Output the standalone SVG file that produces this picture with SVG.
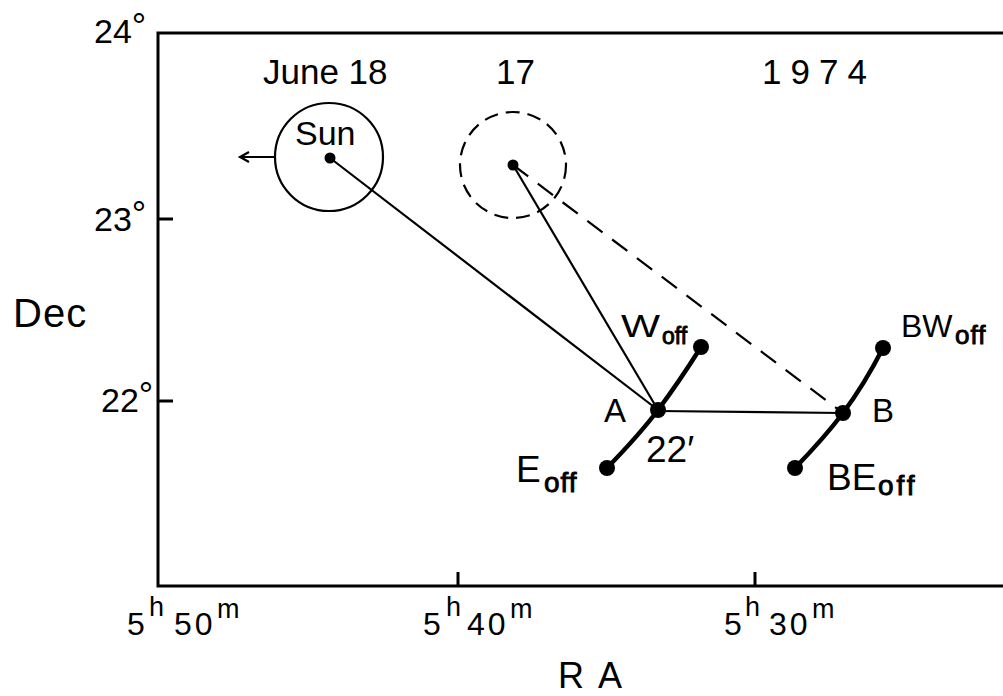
<svg xmlns="http://www.w3.org/2000/svg" width="1003" height="696" viewBox="0 0 1003 696">
<style>
text{font-family:"Liberation Sans","DejaVu Sans",sans-serif;fill:#000}
.ax{stroke:#000;stroke-width:3;fill:none}
.thin{stroke:#000;stroke-width:2.2;fill:none}
.thick{stroke:#000;stroke-width:4.5;fill:none;stroke-linecap:round}
.dot{fill:#000}
.sub{stroke:#000;stroke-width:0.9}
</style>
<rect width="1003" height="696" fill="#fff"/>
<g id="axes">
<path class="ax" d="M1003 33H158V586H1003"/>
<path class="ax" d="M158 219H173M158 401H173M458 586V572M755 586V572" stroke-width="2"/>
<text x="94" y="43" font-size="34">24<tspan dy="-4" font-size="36">°</tspan></text>
<text x="94" y="231" font-size="34">23<tspan dy="-4" font-size="36">°</tspan></text>
<text x="101" y="412" font-size="34">22<tspan dy="-4" font-size="36">°</tspan></text>
<text x="13" y="327" font-size="40" letter-spacing="1">Dec</text>
<text font-size="32"><tspan x="127" y="635">5</tspan><tspan x="149" y="616" font-size="27">h</tspan><tspan x="174" y="635" letter-spacing="3">50</tspan><tspan x="217" y="618" font-size="27">m</tspan></text>
<text font-size="32"><tspan x="423" y="635">5</tspan><tspan x="446" y="616" font-size="27">h</tspan><tspan x="467" y="635" letter-spacing="3">40</tspan><tspan x="510" y="618" font-size="27">m</tspan></text>
<text font-size="32"><tspan x="724" y="635">5</tspan><tspan x="745" y="616" font-size="27">h</tspan><tspan x="769" y="635" letter-spacing="3">30</tspan><tspan x="812" y="618" font-size="27">m</tspan></text>
<text font-size="36"><tspan x="558" y="688">R</tspan><tspan x="598" y="688">A</tspan></text>
<text x="263" y="84" font-size="35">June 18</text>
<text x="496" y="84" font-size="35">17</text>
<text x="762" y="84" font-size="35" letter-spacing="9">1974</text>
</g>
<g id="connectors">
<line class="thin" x1="330" y1="158" x2="658" y2="410"/>
<line class="thin" x1="513" y1="165" x2="658" y2="410"/>
<line class="thin" x1="513" y1="165" x2="843" y2="413" stroke-dasharray="19 12"/>
<line class="thin" x1="658" y1="411" x2="843" y2="413" stroke-width="2"/>
<path class="thick" d="M607 468Q640 434 658 410Q679 382 701 347"/>
<path class="thick" d="M795 468Q825 437 843 413Q864 385 883 348"/>
</g>
<g id="sun">
<circle cx="329" cy="157" r="54" class="thin" stroke-width="2"/>
<circle cx="330" cy="158" r="5.5" class="dot"/>
<text x="295" y="145" font-size="34">Sun</text>
<path class="thin" stroke-width="1.8" d="M275 157H240M249 152L240 157L249 162"/>
</g>
<g id="sun17">
<circle cx="513" cy="165" r="53" class="thin" stroke-width="2" stroke-dasharray="14 8"/>
<circle cx="513" cy="165" r="5.5" class="dot"/>
</g>
<g id="A">
<circle cx="658" cy="410" r="8" class="dot"/>
<text x="604" y="422" font-size="33">A</text>
<text x="646" y="462" font-size="37">22′</text>
</g>
<g id="Woff">
<circle cx="701" cy="347" r="8" class="dot"/>
<text font-size="31"><tspan x="621" y="337" textLength="39" lengthAdjust="spacingAndGlyphs">W</tspan><tspan class="sub" x="662" y="344" font-size="23">off</tspan></text>
</g>
<g id="Eoff">
<circle cx="607" cy="468" r="8" class="dot"/>
<text font-size="37"><tspan x="516" y="482">E</tspan><tspan class="sub" x="544" y="492" font-size="28" letter-spacing="1">off</tspan></text>
</g>
<g id="B">
<circle cx="843" cy="413" r="8" class="dot"/>
<text x="872" y="422" font-size="33">B</text>
</g>
<g id="BWoff">
<circle cx="883" cy="348" r="8" class="dot"/>
<text font-size="32"><tspan x="901" y="337">BW</tspan><tspan class="sub" x="955" y="344" font-size="26" letter-spacing="1">off</tspan></text>
</g>
<g id="BEoff">
<circle cx="795" cy="468" r="8" class="dot"/>
<text font-size="37"><tspan x="827" y="490">BE</tspan><tspan class="sub" x="878" y="495" font-size="28" letter-spacing="3">off</tspan></text>
</g>
</svg>
